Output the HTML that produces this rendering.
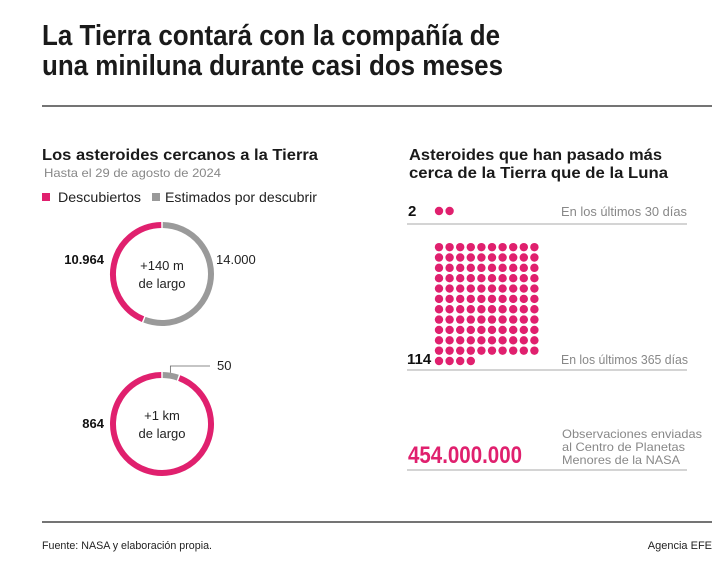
<!DOCTYPE html>
<html><head><meta charset="utf-8"><style>
html,body{margin:0;padding:0;background:#fff;}
svg{display:block;font-family:"Liberation Sans",sans-serif;}
</style></head><body>
<svg id="c" width="724" height="568" viewBox="0 0 724 568">
<text x="42" y="45" font-size="29" font-weight="bold" fill="#1a1a1a" textLength="458" lengthAdjust="spacingAndGlyphs">La Tierra contará con la compañía de</text>
<text x="42" y="75" font-size="29" font-weight="bold" fill="#1a1a1a" textLength="461" lengthAdjust="spacingAndGlyphs">una miniluna durante casi dos meses</text>
<line x1="42" y1="106" x2="712" y2="106" stroke="#222" stroke-width="1.3"/>

<text x="42" y="160" font-size="16" font-weight="bold" fill="#1a1a1a" textLength="276" lengthAdjust="spacingAndGlyphs">Los asteroides cercanos a la Tierra</text>
<text x="44" y="177" font-size="12" fill="#888" textLength="177" lengthAdjust="spacingAndGlyphs">Hasta el 29 de agosto de 2024</text>
<rect x="42" y="193" width="8" height="8" fill="#e0206e"/>
<text x="58" y="202" font-size="14" fill="#222" textLength="83" lengthAdjust="spacingAndGlyphs">Descubiertos</text>
<rect x="152" y="193" width="8" height="8" fill="#999"/>
<text x="165" y="202" font-size="14" fill="#222" textLength="152" lengthAdjust="spacingAndGlyphs">Estimados por descubrir</text>

<g id="donuts"></g>

<text x="409" y="160" font-size="16" font-weight="bold" fill="#1a1a1a" textLength="253" lengthAdjust="spacingAndGlyphs">Asteroides que han pasado más</text>
<text x="409" y="178" font-size="16" font-weight="bold" fill="#1a1a1a" textLength="259" lengthAdjust="spacingAndGlyphs">cerca de la Tierra que de la Luna</text>

<g id="dots"></g>
<text x="408" y="216" font-size="15" font-weight="bold" fill="#111">2</text>
<text x="687" y="216" font-size="12.5" fill="#888" text-anchor="end" textLength="126" lengthAdjust="spacingAndGlyphs">En los últimos 30 días</text>
<line x1="407" y1="224" x2="687" y2="224" stroke="#aaa" stroke-width="1"/>
<text x="407" y="364" font-size="15" font-weight="bold" fill="#111">114</text>
<text x="688" y="364" font-size="12.5" fill="#888" text-anchor="end" textLength="127" lengthAdjust="spacingAndGlyphs">En los últimos 365 días</text>
<line x1="407" y1="370" x2="687" y2="370" stroke="#aaa" stroke-width="1"/>

<text x="408" y="463" font-size="24" font-weight="bold" fill="#e0206e" textLength="114" lengthAdjust="spacingAndGlyphs">454.000.000</text>
<text x="562" y="438" font-size="12" fill="#888" textLength="140" lengthAdjust="spacingAndGlyphs">Observaciones enviadas</text>
<text x="562" y="451" font-size="12" fill="#888" textLength="123" lengthAdjust="spacingAndGlyphs">al Centro de Planetas</text>
<text x="562" y="464" font-size="12" fill="#888" textLength="118" lengthAdjust="spacingAndGlyphs">Menores de la NASA</text>
<line x1="407" y1="470" x2="687" y2="470" stroke="#aaa" stroke-width="1"/>

<line x1="42" y1="522" x2="712" y2="522" stroke="#222" stroke-width="1.3"/>
<text x="42" y="549" font-size="11" fill="#222" textLength="170" lengthAdjust="spacingAndGlyphs">Fuente: NASA y elaboración propia.</text>
<text x="712" y="549" font-size="11" fill="#222" text-anchor="end">Agencia EFE</text>
</svg>
<script>
const donutLabels = ["+140 m", "+1 km"];
const discovered = [10964, 864];
const estimated = [14000, 50];
const dotCounts = [2, 114];

const NS = "http://www.w3.org/2000/svg";
function mk(tag, attrs, parent){const e=document.createElementNS(NS,tag);for(const k in attrs)e.setAttribute(k,attrs[k]);parent.appendChild(e);return e;}
function fmt(n){return n.toString().replace(/\B(?=(\d{3})+(?!\d))/g,".");}
function arcPath(cx,cy,r,a0,a1){
  const p=a=>[cx+r*Math.sin(a),cy-r*Math.cos(a)];
  const [x0,y0]=p(a0),[x1,y1]=p(a1);
  const large=Math.abs(a1-a0)>Math.PI?1:0, sweep=a1>a0?1:0;
  return `M${x0},${y0} A${r},${r} 0 ${large} ${sweep} ${x1},${y1}`;
}
const dg=document.getElementById("donuts");
const centersY=[274,424];
donutLabels.forEach((lab,i)=>{
  const cx=162, cy=centersY[i], r=49, gap=0.03;
  const tot=discovered[i]+estimated[i];
  const aD=discovered[i]/tot*2*Math.PI, aE=estimated[i]/tot*2*Math.PI;
  const g=mk("g",{},dg);
  
  
  const pd=mk("path",{d:arcPath(cx,cy,r,-gap/2,-aD+gap/2),fill:"none",stroke:"#e0206e","stroke-width":6},g);
  
  
  const pe=mk("path",{d:arcPath(cx,cy,r,gap/2,aE-gap/2),fill:"none",stroke:"#9a9a9a","stroke-width":6},g);
  
  
  const t1=mk("text",{x:cx,y:cy-4,"font-size":13,"text-anchor":"middle",fill:"#222"},g);t1.textContent=lab;
  
  
  const t2=mk("text",{x:cx,y:cy+14,"font-size":13,"text-anchor":"middle",fill:"#222"},g);t2.textContent="de largo";
  
  
  const td=mk("text",{x:104,y:cy-10+(i?14:0),"font-size":13,"font-weight":"bold","text-anchor":"end",fill:"#111"},g);td.textContent=fmt(discovered[i]);
  
  
  let te;
  if(i===0){te=mk("text",{x:216,y:cy-10,"font-size":13,fill:"#222"},g);}
  else{
    const am=aE/2, lx=cx+r*Math.sin(am), ly=cy-r*Math.cos(am)-3;
    const ln=mk("polyline",{points:`${lx},${ly} ${lx},${cy-r-9} ${cx+48},${cy-r-9}`,fill:"none",stroke:"#666","stroke-width":0.8},g);
    
    
    te=mk("text",{x:217,y:cy-r-5,"font-size":13,fill:"#222"},g);
  }
  te.textContent=fmt(estimated[i]);
  
  
});
const og=document.getElementById("dots");
for(let k=0;k<dotCounts[0];k++){
  const c=mk("circle",{cx:439+k*10.6,cy:211,r:4.2,fill:"#e0206e"},og);
  
  
}
const n=dotCounts[1], cols=10, rows=Math.ceil(n/cols);
for(let k=0;k<n;k++){
  const row=Math.floor(k/cols), col=k%cols;
  const y=361-(rows-1-row)*10.35;
  const c=mk("circle",{cx:439+col*10.6,cy:y,r:4.2,fill:"#e0206e"},og);
  
  
}
</script>
</body></html>
